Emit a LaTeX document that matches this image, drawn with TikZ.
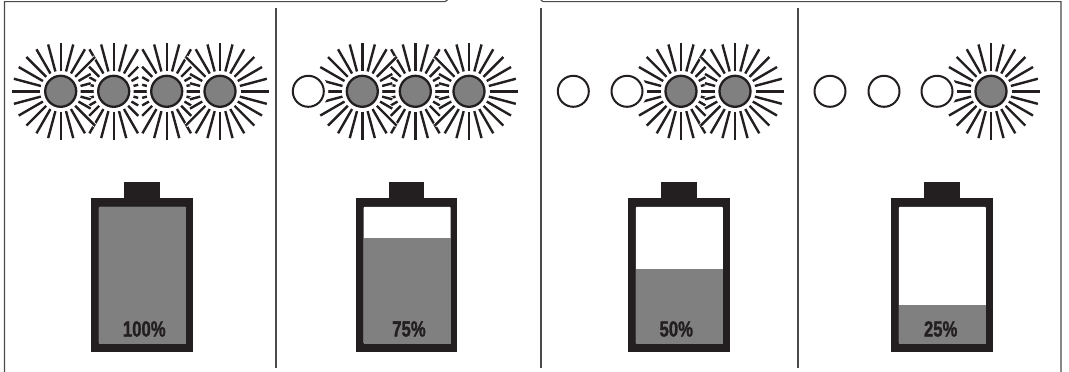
\documentclass[tikz,border=0pt]{standalone}
\usepackage{fontspec}
\setmainfont{Liberation Sans}
\newfontfamily\labelfont[BoldFeatures={FakeBold=1.5}]{Liberation Sans}
\definecolor{ink}{HTML}{231F20}
\definecolor{fillgrey}{HTML}{808080}
\definecolor{framegrey}{HTML}{4A4A4A}
\tikzset{
  frameline/.style={draw=framegrey,line width=1.1pt},
  raycase/.style={draw=white,line width=4.2pt},
  rayline/.style={draw=ink,line width=2.4pt},
  halo/.style={fill=white,draw=none},
  lit/.style={fill=fillgrey,draw=ink,line width=2.3pt},
  unlit/.style={fill=white,draw=ink,line width=2pt},
  batbody/.style={fill=ink,draw=none},
  batlabel/.style={text=ink,font=\labelfont\bfseries\fontsize{22}{22}\selectfont,xscale=.76,inner sep=0pt}
}
% ray end radius: modes 0 free, 1 dominant, 2 subordinate, 3 equal
\newcommand{\rayend}[3]{%
  \pgfmathsetmacro\rca{abs(cos(#1))}%
  \pgfmathtruncatemacro\rmode{cos(#1)>0 ? #3 : #2}%
  \pgfmathtruncatemacro\rb{round(acos(\rca))}%
  \pgfmathsetmacro\rlim{(\rmode==1 && \rb>0 && \rb<45) ? 30 : (((\rmode==2 || \rmode==3) && \rb>0 && \rb<50) ? 24.5 : 99)}%
  \pgfmathsetmacro\ro{min(48.5,\rlim/max(\rca,0.01))}%
}
\newcommand{\sunrays}[3]{%
  \foreach \a in {0,15,...,345}{
    \rayend{\a}{#2}{#3}
    \draw[raycase] ({#1+20.5*cos(\a)},{91.3+20.5*sin(\a)}) -- ({#1+\ro*cos(\a)},{91.3+\ro*sin(\a)});
  }
  \foreach \a in {0,15,...,345}{
    \rayend{\a}{#2}{#3}
    \draw[rayline] ({#1+20.5*cos(\a)},{91.3+20.5*sin(\a)}) -- ({#1+\ro*cos(\a)},{91.3+\ro*sin(\a)});
  }}
\newcommand{\ledlit}[1]{%
  \fill[halo] (#1,91.3) circle (20);
  \draw[lit] (#1,91.3) circle (15.5);}
\newcommand{\ledoff}[1]{%
  \fill[halo] (#1,91.3) circle (20);
  \draw[unlit] (#1,91.3) circle (15.5);}
% #1 left x, #2 fill top y, #3 text centre x, #4 label, #5 node name
\newcommand{\battery}[5]{%
  \fill[batbody] (#1+33.3,182) rectangle (#1+68.5,200);
  \fill[batbody] (#1,198.3) rectangle (#1+101.5,351.7);
  \fill[white,rounded corners=1pt] (#1+7.9,206.8) rectangle (#1+94.9,343.7);
  \fill[fillgrey] (#1+7.9,#2) rectangle (#1+95,343.7);
  \node[batlabel] (#5) at (#3,329) {#4};}
\begin{document}
\begin{tikzpicture}[x=1pt,y=-1pt]
\useasboundingbox (0,0) rectangle (1069,372);
% frame
\draw[frameline] (4.5,372) -- (4.5,1.6) -- (445,1.6) .. controls (446.5,1.6) and (447,1) .. (447.5,0);
\draw[frameline] (540.8,0) .. controls (541,1) and (541.5,1.6) .. (543,1.6) -- (1061,1.6) -- (1061,372);
% dividers
\draw[frameline] (276,8) -- (276,368);
\draw[frameline] (541,8) -- (541,368);
\draw[frameline] (798,8) -- (798,368);
% panel 1
\sunrays{113.7}{2}{3}\sunrays{166.7}{3}{2}\sunrays{60.7}{0}{1}\sunrays{220}{1}{0}
\ledlit{60.7}\ledlit{113.7}\ledlit{166.7}\ledlit{220}
% panel 2
\sunrays{415.3}{2}{2}\sunrays{362.3}{0}{1}\sunrays{469}{1}{0}
\ledoff{308.3}\ledlit{362.3}\ledlit{415.3}\ledlit{469}
% panel 3
\sunrays{681}{0}{2}\sunrays{735}{1}{0}
\ledoff{573.3}\ledoff{627}\ledlit{681}\ledlit{735}
% panel 4
\sunrays{991}{0}{0}
\ledoff{830}\ledoff{884}\ledoff{937}\ledlit{991}
% batteries
\battery{91}{206.8}{144.3}{100\%}{batA}
\battery{355.7}{238}{409}{75\%}{batB}
\battery{628}{269}{676.3}{50\%}{batC}
\battery{891}{305}{940.7}{25\%}{batD}
\end{tikzpicture}
\end{document}
